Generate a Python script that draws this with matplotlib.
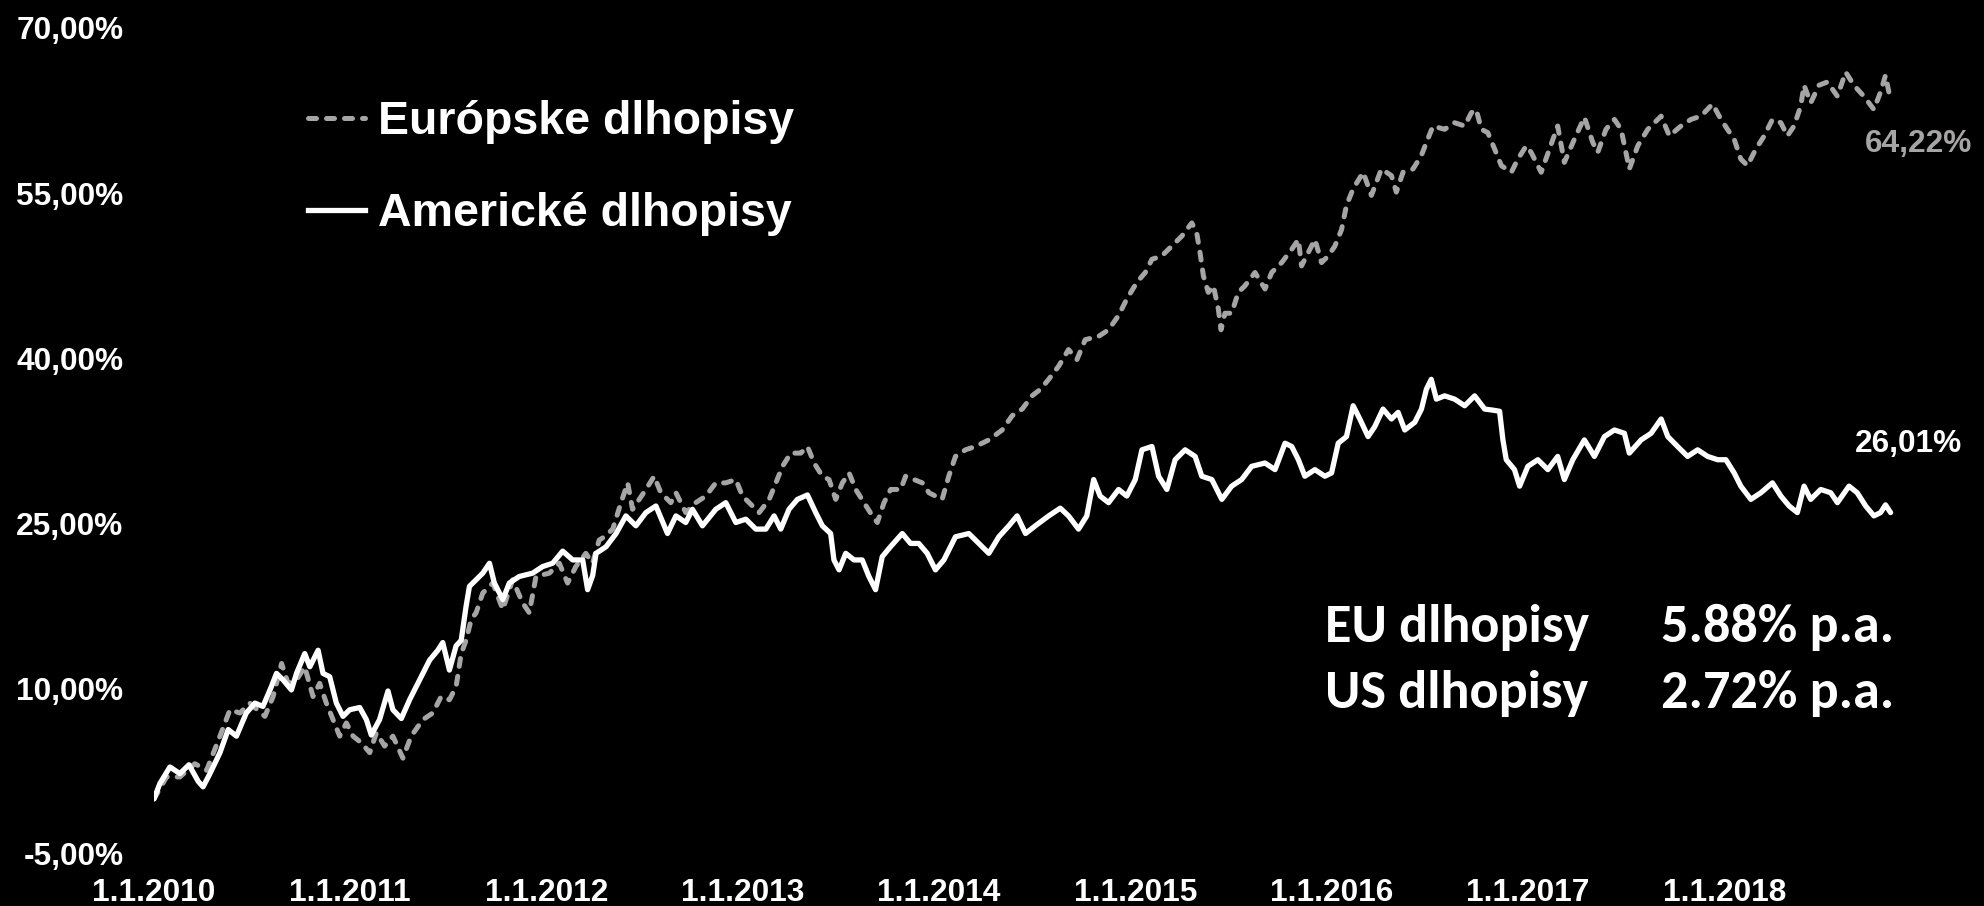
import matplotlib
matplotlib.use("Agg")
from matplotlib import pyplot as plt
from matplotlib.lines import Line2D

# time as decimal years, values in %
us_t = [0.0, 0.03, 0.081, 0.132, 0.178, 0.225, 0.25, 0.285, 0.336, 0.378,
        0.42, 0.47, 0.514, 0.555, 0.598, 0.624, 0.658, 0.70, 0.726, 0.768,
        0.794, 0.836, 0.861, 0.895, 0.929, 0.963, 0.997, 1.048, 1.082, 1.107,
        1.149, 1.192, 1.217, 1.26, 1.302, 1.353, 1.404, 1.446, 1.471, 1.505,
        1.539, 1.565, 1.59, 1.607, 1.641, 1.675, 1.709, 1.734, 1.777, 1.81,
        1.861, 1.929, 1.98, 2.031, 2.082, 2.133, 2.184, 2.209, 2.235, 2.252,
        2.303, 2.354, 2.404, 2.455, 2.506, 2.557, 2.616, 2.659, 2.709, 2.743,
        2.794, 2.862, 2.913, 2.964, 3.015, 3.066, 3.117, 3.159, 3.193, 3.235,
        3.278, 3.329, 3.371, 3.405, 3.447, 3.464, 3.49, 3.524, 3.566, 3.608,
        3.642, 3.676, 3.71, 3.752, 3.812, 3.854, 3.896, 3.939, 3.981, 4.024,
        4.083, 4.151, 4.202, 4.253, 4.304, 4.355, 4.397, 4.44, 4.49, 4.558,
        4.617, 4.659, 4.71, 4.752, 4.787, 4.82, 4.863, 4.914, 4.956, 4.999,
        5.033, 5.084, 5.118, 5.16, 5.202, 5.253, 5.304, 5.338, 5.389, 5.44,
        5.49, 5.541, 5.592, 5.66, 5.711, 5.762, 5.796, 5.83, 5.863, 5.914,
        5.965, 5.999, 6.033, 6.075, 6.109, 6.143, 6.185, 6.219, 6.261, 6.304,
        6.338, 6.372, 6.423, 6.457, 6.482, 6.507, 6.533, 6.575, 6.626, 6.677,
        6.728, 6.779, 6.821, 6.855, 6.872, 6.889, 6.931, 6.957, 6.999, 7.05,
        7.101, 7.151, 7.185, 7.228, 7.287, 7.338, 7.389, 7.44, 7.491, 7.516,
        7.576, 7.627, 7.678, 7.712, 7.762, 7.813, 7.864, 7.915, 7.966, 8.008,
        8.05, 8.084, 8.135, 8.186, 8.245, 8.288, 8.33, 8.372, 8.406, 8.44,
        8.491, 8.542, 8.576, 8.635, 8.677, 8.72, 8.762, 8.796, 8.821, 8.847]
us_v = [0.0, 1.4, 2.9, 2.3, 3.1, 1.6, 1.1, 2.3, 4.2, 6.3,
        5.7, 7.8, 8.7, 8.4, 10.2, 11.4, 10.8, 9.9, 11.4, 13.2,
        12.0, 13.5, 11.4, 11.1, 8.7, 7.5, 8.1, 8.3, 7.2, 5.8,
        7.2, 9.8, 8.1, 7.3, 9.0, 10.8, 12.6, 13.5, 14.2, 11.7,
        13.9, 14.4, 17.5, 19.3, 19.9, 20.5, 21.4, 19.6, 18.1, 19.6,
        20.2, 20.5, 21.1, 21.4, 22.5, 21.7, 21.7, 19.0, 20.3, 22.3,
        22.9, 24.1, 25.7, 24.8, 26.0, 26.6, 24.1, 25.7, 25.1, 26.3,
        24.8, 26.3, 26.9, 25.1, 25.4, 24.5, 24.5, 25.7, 24.5, 26.3,
        27.2, 27.6, 26.0, 24.8, 24.1, 21.7, 20.8, 22.3, 21.7, 21.7,
        20.2, 19.0, 22.0, 22.9, 24.1, 23.2, 23.2, 22.3, 20.8, 21.7,
        23.8, 24.1, 23.2, 22.3, 23.8, 24.8, 25.7, 24.1, 24.8, 25.7,
        26.4, 25.7, 24.5, 25.7, 29.0, 27.5, 26.9, 28.1, 27.5, 29.0,
        31.7, 32.0, 29.3, 28.1, 30.8, 31.7, 31.1, 29.3, 29.0, 27.2,
        28.4, 29.0, 30.2, 30.5, 29.9, 32.3, 32.0, 30.8, 29.3, 29.9,
        29.3, 29.6, 32.3, 32.9, 35.7, 34.5, 32.9, 33.8, 35.4, 34.5,
        35.1, 33.5, 34.2, 35.4, 37.2, 38.1, 36.3, 36.6, 36.3, 35.7,
        36.6, 35.4, 35.3, 35.2, 32.6, 30.8, 29.9, 28.4, 30.2, 30.8,
        29.9, 31.1, 29.0, 30.8, 32.6, 31.1, 32.9, 33.5, 33.2, 31.4,
        32.6, 33.2, 34.5, 32.9, 32.0, 31.1, 31.7, 31.1, 30.8, 30.8,
        29.6, 28.4, 27.2, 27.8, 28.7, 27.5, 26.6, 26.0, 28.4, 27.2,
        28.1, 27.8, 26.9, 28.4, 27.8, 26.6, 25.7, 26.0, 26.7, 26.0]

eu_t = [0.0, 0.064, 0.132, 0.208, 0.268, 0.336, 0.387, 0.438, 0.488, 0.565,
        0.607, 0.65, 0.683, 0.726, 0.768, 0.81, 0.844, 0.878, 0.912, 0.946,
        0.98, 1.014, 1.056, 1.099, 1.133, 1.175, 1.217, 1.268, 1.31, 1.37,
        1.42, 1.463, 1.505, 1.539, 1.565, 1.59, 1.616, 1.641, 1.675, 1.726,
        1.777, 1.827, 1.878, 1.912, 1.946, 2.014, 2.065, 2.107, 2.149, 2.2,
        2.234, 2.268, 2.294, 2.337, 2.379, 2.413, 2.438, 2.506, 2.548, 2.582,
        2.633, 2.659, 2.709, 2.76, 2.811, 2.862, 2.913, 2.964, 2.998, 3.032,
        3.083, 3.134, 3.168, 3.202, 3.244, 3.295, 3.329, 3.363, 3.405, 3.439,
        3.473, 3.507, 3.541, 3.575, 3.617, 3.66, 3.685, 3.719, 3.753, 3.804,
        3.829, 3.871, 3.914, 3.948, 3.981, 4.015, 4.049, 4.083, 4.134, 4.185,
        4.253, 4.321, 4.372, 4.423, 4.473, 4.516, 4.558, 4.609, 4.659, 4.702,
        4.744, 4.812, 4.863, 4.914, 4.956, 5.007, 5.05, 5.084, 5.134, 5.185,
        5.236, 5.287, 5.312, 5.329, 5.346, 5.371, 5.397, 5.422, 5.436, 5.456,
        5.49, 5.524, 5.558, 5.609, 5.66, 5.694, 5.745, 5.796, 5.83, 5.846,
        5.88, 5.914, 5.948, 5.982, 6.016, 6.05, 6.075, 6.109, 6.16, 6.202,
        6.253, 6.304, 6.329, 6.363, 6.414, 6.456, 6.482, 6.516, 6.575, 6.626,
        6.677, 6.711, 6.736, 6.762, 6.795, 6.83, 6.864, 6.915, 6.948, 6.991,
        7.016, 7.067, 7.109, 7.151, 7.185, 7.236, 7.287, 7.33, 7.355, 7.397,
        7.44, 7.474, 7.516, 7.559, 7.61, 7.678, 7.72, 7.779, 7.83, 7.881,
        7.94, 7.983, 8.016, 8.05, 8.084, 8.118, 8.16, 8.203, 8.245, 8.288,
        8.321, 8.355, 8.389, 8.406, 8.44, 8.482, 8.525, 8.576, 8.618, 8.66,
        8.711, 8.762, 8.796, 8.821, 8.838]
eu_v = [0.0, 2.0, 2.0, 3.2, 2.6, 5.7, 8.1, 7.8, 8.7, 7.5,
        9.3, 12.3, 10.5, 10.8, 12.0, 9.3, 10.5, 8.7, 7.2, 5.7,
        6.9, 5.7, 5.1, 4.2, 6.0, 4.8, 5.7, 3.7, 5.7, 7.2,
        7.8, 9.3, 9.0, 10.2, 13.2, 14.4, 16.3, 16.9, 18.7, 19.6,
        17.2, 19.9, 17.8, 16.9, 20.2, 20.5, 21.4, 19.6, 21.1, 22.3,
        21.4, 23.5, 23.8, 24.5, 26.9, 28.7, 26.3, 28.1, 29.3, 27.8,
        26.9, 27.8, 26.0, 26.9, 27.5, 28.7, 28.7, 29.0, 27.5, 26.9,
        26.0, 27.2, 28.7, 30.2, 31.4, 31.4, 32.0, 30.5, 29.3, 29.0,
        27.2, 28.7, 29.6, 28.1, 26.9, 25.7, 25.1, 26.9, 28.1, 28.1,
        29.3, 29.0, 28.7, 27.8, 27.5, 27.2, 29.3, 31.1, 31.7, 32.0,
        32.6, 33.5, 34.8, 35.4, 36.6, 37.2, 38.1, 39.3, 40.8, 39.9,
        41.7, 42.0, 42.6, 43.9, 45.4, 46.9, 47.8, 49.0, 49.3, 50.2,
        51.1, 52.3, 51.4, 49.6, 47.5, 46.0, 46.6, 44.5, 42.6, 44.1,
        44.1, 46.0, 46.6, 47.8, 46.3, 47.8, 48.7, 49.9, 50.8, 48.4,
        49.6, 50.8, 48.7, 49.3, 50.2, 51.7, 53.9, 55.4, 56.9, 54.8,
        57.2, 56.6, 55.1, 56.9, 57.2, 58.4, 59.6, 61.1, 60.8, 61.4,
        61.1, 62.3, 62.6, 60.8, 60.5, 59.0, 57.5, 56.9, 58.1, 59.3,
        58.7, 56.9, 59.0, 61.1, 57.8, 59.9, 61.9, 59.6, 58.7, 60.8,
        61.7, 60.8, 57.2, 59.3, 60.8, 62.0, 60.2, 61.1, 61.7, 62.0,
        63.1, 61.7, 60.8, 59.9, 58.1, 57.5, 59.0, 60.2, 61.7, 61.4,
        60.2, 61.1, 62.9, 64.8, 63.2, 64.8, 65.1, 63.8, 66.0, 64.8,
        63.8, 62.6, 64.2, 65.7, 64.2]

years = [2010, 2011, 2012, 2013, 2014, 2015, 2016, 2017, 2018]
x_labels = ["1.1." + str(y) for y in years]
y_ticks = [-5, 10, 25, 40, 55, 70]
y_labels = [("%.2f" % v).replace(".", ",") + "%" for v in y_ticks]

eu_name = "Európske dlhopisy"
us_name = "Americké dlhopisy"
eu_end = "64,22%"
us_end = "26,01%"
summary = [("EU dlhopisy", "5.88% p.a."), ("US dlhopisy", "2.72% p.a.")]

grey = "#a6a4a4"
tick_font = dict(family="Liberation Sans", weight="bold", size=22.8)

fig = plt.figure(figsize=(19.84, 9.06), dpi=100, facecolor="black")
ax = fig.add_axes([154 / 1984, 52 / 906, (1901 - 154) / 1984, 826 / 906])
ax.set_facecolor("black")

eu_x = [2010 + t for t in eu_t]
us_x = [2010 + t for t in us_t]
ax.plot(eu_x, eu_v, color=grey, linewidth=3.6, linestyle=(0, (1.6, 2.0)),
        dash_capstyle="round", solid_capstyle="round")
ax.plot(us_x, us_v, color="white", linewidth=3.8, solid_joinstyle="round",
        solid_capstyle="round")

ax.set_xlim(2010, 2018.9)
ax.set_ylim(-5, 70)
ax.set_xticks(years)
ax.set_xticklabels(x_labels, **tick_font)
ax.set_yticks(y_ticks)
ax.set_yticklabels(y_labels, **tick_font)
ax.tick_params(colors="white", length=0)
ax.tick_params(axis="y", pad=22)
ax.tick_params(axis="x", pad=17)
for s in ax.spines.values():
    s.set_visible(False)

# end values
ax.text(2018.718, 59.5, eu_end, color=grey, va="center", ha="left", **tick_font)
ax.text(2018.667, 32.2, us_end, color="white", va="center", ha="left", **tick_font)

# summary table
sum_font = dict(family=["Carlito", "Lato", "Open Sans"], weight="bold", size=39,
                color="white")
for i, (name, val) in enumerate(summary):
    yv = 14.25 - i * 6.0
    ax.text(2015.966, yv, name, va="baseline", ha="left", **sum_font)
    ax.text(2017.675, yv, val, va="baseline", ha="left", **sum_font)

handles = [Line2D([], [], color=grey, linewidth=3.6, linestyle=(0, (1.6, 2.0)),
                  dash_capstyle="round"),
           Line2D([], [], color="white", linewidth=3.8)]
leg = fig.legend(handles, [eu_name, us_name], loc="upper left",
                 bbox_to_anchor=(308 / 1984, 1 - 100 / 906), frameon=False,
                 borderpad=0, borderaxespad=0, handlelength=1.22,
                 handletextpad=0.28, labelspacing=1.03,
                 prop=dict(family="Liberation Sans", weight="bold", size=33.5))
for t in leg.get_texts():
    t.set_color("white")

fig.savefig("out.png", dpi=100, facecolor="black")
